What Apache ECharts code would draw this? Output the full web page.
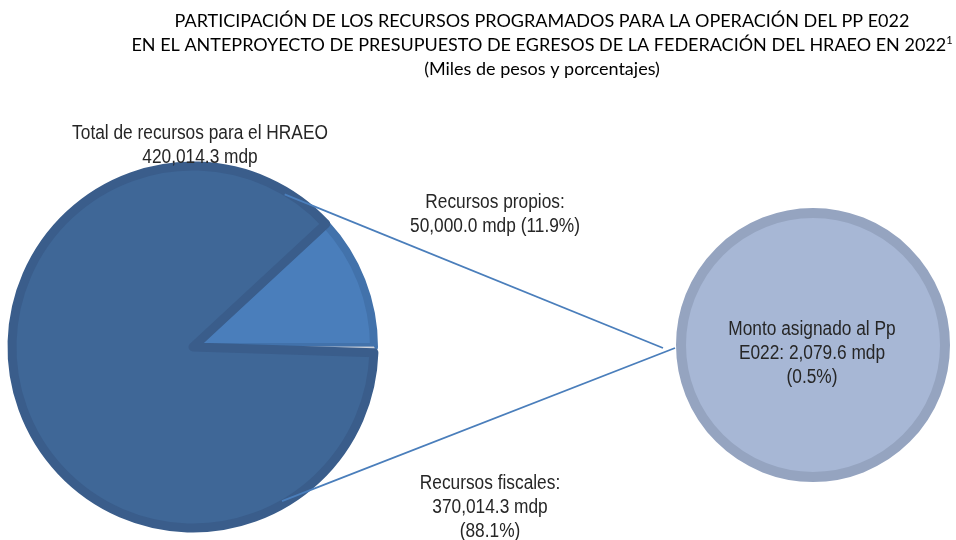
<!DOCTYPE html>
<html>
<head>
<meta charset="utf-8">
<script src="https://cdn.jsdelivr.net/npm/echarts@6/dist/echarts.min.js"></script>
<style>
  html, body { margin: 0; padding: 0; background: #fff; }
  #main { width: 956px; height: 540px; }
</style>
</head>
<body>
<div id="main"></div>
<script>
// datos (miles de pesos)
var categorias = ['Recursos propios', 'Monto asignado al Pp E022', 'Recursos fiscales'];
var valores = [50000.0, 2079.6, 367934.7];
var totalHRAEO = 420014.3;
var fiscalesTotal = 370014.3;
var porcentajes = ['11.9%', '0.5%', '88.1%'];

var tituloLineas = [
    'PARTICIPACIÓN DE LOS RECURSOS PROGRAMADOS PARA LA OPERACIÓN DEL PP E022',
    'EN EL ANTEPROYECTO DE PRESUPUESTO DE EGRESOS DE LA FEDERACIÓN DEL HRAEO EN 2022{sup|1}',
    '(Miles de pesos y porcentajes)'
];

function fmt(v) {
    return v.toLocaleString('en-US', { minimumFractionDigits: 1, maximumFractionDigits: 1 });
}

// geometria
var c1 = [193, 347], r1 = 181;
var c2 = [813, 345], r2 = 137;

var chart = echarts.init(document.getElementById('main'));

function punto(c, r, grados) {
    var a = grados * Math.PI / 180;
    return [c[0] + r * Math.cos(a), c[1] - r * Math.sin(a)];
}
var pA = punto(c1, r1 - 3, 59);
var pB = punto(c1, r1 - 3, -60);
var pFin1 = [663, 348];
var pFin2 = [675, 348];

// Arial Narrow aproximado con escala horizontal
function etiqueta(texto, x, y) {
    return {
        type: 'text', x: x, y: y, scaleX: 0.865, z: 11,
        style: {
            text: texto,
            textAlign: 'center',
            textVerticalAlign: 'middle',
            fontFamily: 'Liberation Sans, Arial',
            fontSize: 20,
            lineHeight: 24,
            fill: '#262626'
        }
    };
}

function lineaTitulo(texto, y) {
    return {
        type: 'text', x: 542, y: y, z: 11,
        style: {
            text: texto,
            textAlign: 'center',
            textVerticalAlign: 'middle',
            fontFamily: 'Lato, Open Sans, sans-serif',
            fontSize: 18,
            fill: '#000',
            rich: {
                sup: { fontSize: 11, fontFamily: 'Lato', fill: '#000', padding: [0, 0, 9, 0] }
            }
        }
    };
}

var option = {
    backgroundColor: '#fff',
    animation: false,
    series: [
        {
            type: 'pie',
            center: c1,
            radius: [0, r1],
            startAngle: 42.84,
            clockwise: true,
            silent: true,
            label: { show: false },
            labelLine: { show: false },
            data: [
                { name: categorias[0], value: valores[0], itemStyle: { color: '#4A7EBB', borderColor: '#4272AB', borderWidth: 8 } },
                { name: categorias[1], value: valores[1], itemStyle: { color: '#D3D7DF', borderColor: '#C9CED8', borderWidth: 1 } },
                { name: categorias[2], value: valores[2], itemStyle: { color: '#3F6797', borderColor: '#3A5D8B', borderWidth: 9 } }
            ]
        },
        {
            type: 'pie',
            center: c2,
            radius: [0, r2 - 5],
            silent: true,
            label: { show: false },
            labelLine: { show: false },
            data: [
                { name: categorias[1], value: valores[1], itemStyle: { color: '#A7B7D5', borderColor: '#95A4C0', borderWidth: 10 } }
            ]
        }
    ],
    graphic: [
        {
            type: 'line', z: 10,
            shape: { x1: pA[0], y1: pA[1], x2: pFin1[0], y2: pFin1[1] },
            style: { stroke: '#4A7EBB', lineWidth: 1.8 }
        },
        {
            type: 'line', z: 10,
            shape: { x1: pB[0], y1: pB[1], x2: pFin2[0], y2: pFin2[1] },
            style: { stroke: '#4A7EBB', lineWidth: 1.8 }
        },
        lineaTitulo(tituloLineas[0], 21),
        lineaTitulo(tituloLineas[1], 45),
        lineaTitulo(tituloLineas[2], 69),
        etiqueta('Total de recursos para el HRAEO\n' + fmt(totalHRAEO) + ' mdp', 200, 145),
        etiqueta(categorias[0] + ':\n' + fmt(valores[0]) + ' mdp (' + porcentajes[0] + ')', 495, 214),
        etiqueta(categorias[2] + ':\n' + fmt(fiscalesTotal) + ' mdp\n(' + porcentajes[2] + ')', 490, 507),
        etiqueta('Monto asignado al Pp\nE022: ' + fmt(valores[1]) + ' mdp\n(' + porcentajes[1] + ')', 812, 353)
    ]
};

chart.setOption(option);
</script>
</body>
</html>
